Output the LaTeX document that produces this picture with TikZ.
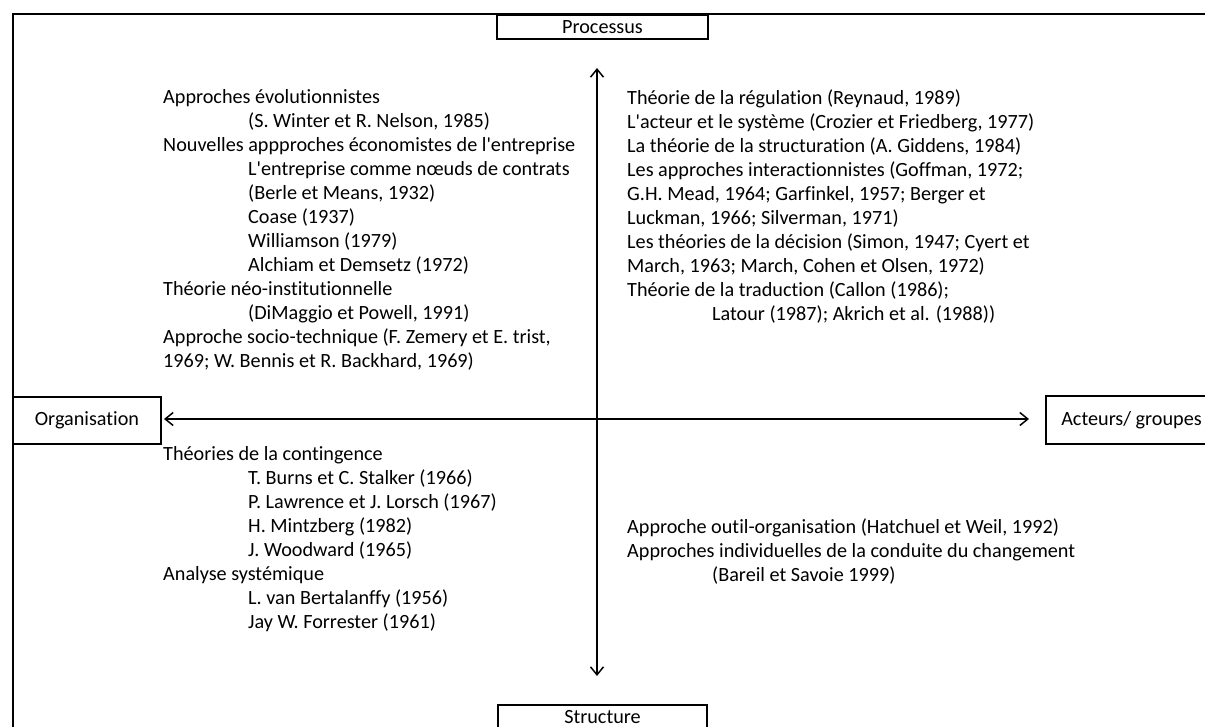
\documentclass[tikz,border=0pt]{standalone}
\usepackage{fontspec}
\setmainfont{Carlito}[Ligatures={TeX,NoCommon}]
\usetikzlibrary{arrows.meta}
\def\BodyFont{\fontsize{20.2}{24}\selectfont}
\newcommand{\indt}{\hspace*{85pt}}
\newcommand{\ap}{\textquotesingle}

\begin{document}
\begin{tikzpicture}[x=1pt, y=-1pt,
   every node/.style = {font=\BodyFont},
         B/.style = {draw, line width=2pt, inner sep=0pt, align=center},
         T/.style = {anchor=north west, inner sep=0pt, align=left, execute at begin node=\strut},
    every edge/.style={draw, {Straight Barb[length=8pt,width=13pt]}-{Straight Barb[length=8pt,width=13pt]}, line width=1.5pt}
                        ]
\useasboundingbox (0,0) rectangle (1205,726);
% cadre
\draw[line width=2pt] (13,740) -- (13,14) -- (1220,14);
\node[B, minimum width=211pt, minimum height=24pt] (proc)   at (602.5,27)  {Processus};
\node[B, minimum width=209pt, minimum height=24pt] (struct) at (602.5,717) {Structure};
\node[B, minimum width=148pt, minimum height=47pt] (org)    at (87,420.5)  {Organisation};
\node[B, minimum width=171pt, minimum height=48pt] (act)    at (1131.5,420) {Acteurs/ groupes};
\coordinate (c) at (597,419);

\node[T] (orgproc) at (163,89.2) {Approches évolutionnistes\\
  \indt(S. Winter et R. Nelson, 1985)\\
  Nouvelles appproches économistes de l\ap entreprise\\
  \indt L\ap entreprise comme nœuds de contrats\\
  \indt(Berle et Means, 1932)\\
  \indt Coase (1937)\\
  \indt Williamson (1979)\\
  \indt Alchiam et Demsetz (1972)\\
  Théorie néo-institutionnelle\\
  \indt(DiMaggio et Powell, 1991)\\
  Approche socio-technique (F. Zemery et E. trist,\\
  1969; W. Bennis et R. Backhard, 1969)};
\node[T] (actproc) at (627,89.2) {Théorie de la régulation (Reynaud, 1989)\\
  L\ap acteur et le système (Crozier et Friedberg, 1977)\\
  La théorie de la structuration (A. Giddens, 1984)\\
  Les approches interactionnistes (Goffman, 1972;\\
  G.H. Mead, 1964; Garfinkel, 1957; Berger et\\
  Luckman, 1966; Silverman, 1971)\\
  Les théories de la décision (Simon, 1947; Cyert et\\
  March, 1963; March, Cohen et Olsen, 1972)\\
  Théorie de la traduction (Callon (1986);\\
  \indt Latour (1987); Akrich et al. (1988))};
\node[T] (orgstruct) at (163,446.2) {Théories de la contingence\\
  \indt T. Burns et C. Stalker (1966)\\
  \indt P. Lawrence et J. Lorsch (1967)\\
  \indt H. Mintzberg (1982)\\
  \indt J. Woodward (1965)\\
  Analyse systémique\\
  \indt L. van Bertalanffy (1956)\\
  \indt Jay W. Forrester (1961)};
\node[T] (actstruct) at (627,518.2) {Approche outil-organisation (Hatchuel et Weil, 1992)\\
  Approches individuelles de la conduite du changement\\
  \indt(Bareil et Savoie 1999)};

\draw   (proc.south -| c) edge[shorten <=28pt, shorten >=28pt] (struct.north -| c)
        (org.east |- c)   edge[shorten <=2pt, shorten >=16pt]  (act.west |- c);
\end{tikzpicture}
\end{document}
